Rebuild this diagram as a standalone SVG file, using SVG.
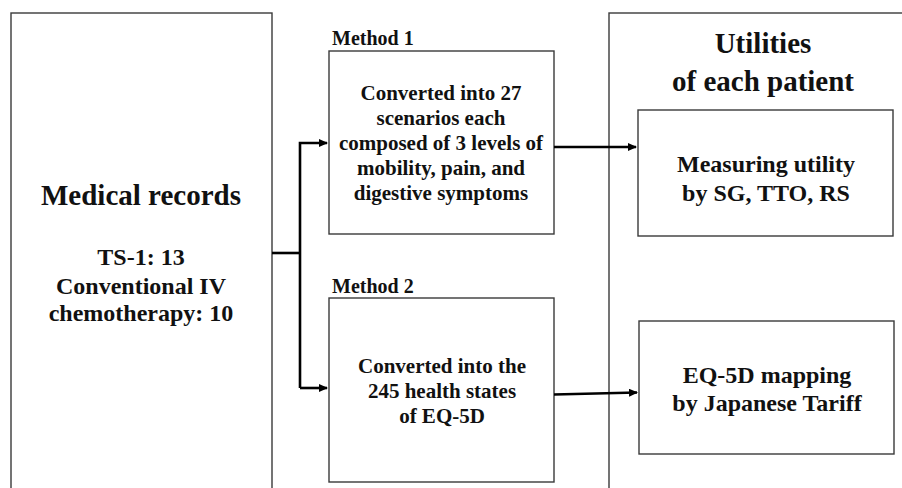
<svg xmlns="http://www.w3.org/2000/svg" width="902" height="488" viewBox="0 0 902 488">
<style>
.box{fill:#fff;stroke:#3a3a3a;stroke-width:1.4}
.t{font-family:'Liberation Serif','DejaVu Serif',serif;font-weight:bold;fill:#111;text-anchor:middle}
.lab{font-family:'Liberation Serif','DejaVu Serif',serif;font-weight:bold;fill:#111;font-size:20px}
.con{fill:none;stroke:#000;stroke-width:2.6}
</style>
<defs>
<marker id="ah" markerUnits="userSpaceOnUse" markerWidth="10" markerHeight="8" refX="8" refY="4" orient="auto">
<path d="M0,0 L9,4 L0,8 z" fill="#000"/>
</marker>
</defs>
<rect width="902" height="488" fill="#fff"/>
<g id="medical-records">
<rect class="box" x="11" y="13" width="261" height="490"/>
<text class="t" x="141" y="205" font-size="29">Medical records</text>
<text class="t" x="141" y="265" font-size="24">TS-1: 13</text>
<text class="t" x="141" y="294" font-size="24">Conventional IV</text>
<text class="t" x="141" y="321" font-size="24">chemotherapy: 10</text>
</g>
<g id="utilities">
<rect class="box" x="609" y="13" width="310" height="490"/>
<text class="t" x="763" y="53" font-size="29">Utilities</text>
<text class="t" x="763" y="91" font-size="29">of each patient</text>
</g>
<g id="method1">
<text class="lab" x="332" y="45">Method 1</text>
<rect class="box" x="329" y="51" width="225" height="183"/>
<text class="t" x="441" y="100" font-size="21">Converted into 27</text>
<text class="t" x="441" y="125" font-size="21">scenarios each</text>
<text class="t" x="441" y="150" font-size="21">composed of 3 levels of</text>
<text class="t" x="441" y="175" font-size="21">mobility, pain, and</text>
<text class="t" x="441" y="200" font-size="21">digestive symptoms</text>
</g>
<g id="method2">
<text class="lab" x="332" y="293">Method 2</text>
<rect class="box" x="329" y="298" width="225" height="184"/>
<text class="t" x="442" y="373" font-size="21">Converted into the</text>
<text class="t" x="442" y="398" font-size="21">245 health states</text>
<text class="t" x="442" y="423" font-size="21">of EQ-5D</text>
</g>
<g id="measuring">
<rect class="box" x="638" y="110" width="255" height="126"/>
<text class="t" x="766" y="172" font-size="24">Measuring utility</text>
<text class="t" x="766" y="201" font-size="24">by SG, TTO, RS</text>
</g>
<g id="eq5d">
<rect class="box" x="639" y="321" width="255" height="133"/>
<text class="t" x="767" y="383" font-size="24">EQ-5D mapping</text>
<text class="t" x="767" y="411" font-size="24">by Japanese Tariff</text>
</g>
<g id="connectors">
<path class="con" d="M272,253 H300"/>
<path class="con" d="M300,388 V143 H327" marker-end="url(#ah)"/>
<path class="con" d="M300,388 H327" marker-end="url(#ah)"/>
<path class="con" d="M554,147 H636" marker-end="url(#ah)"/>
<path class="con" d="M554,394.5 L637,392.5" marker-end="url(#ah)"/>
</g>
</svg>
